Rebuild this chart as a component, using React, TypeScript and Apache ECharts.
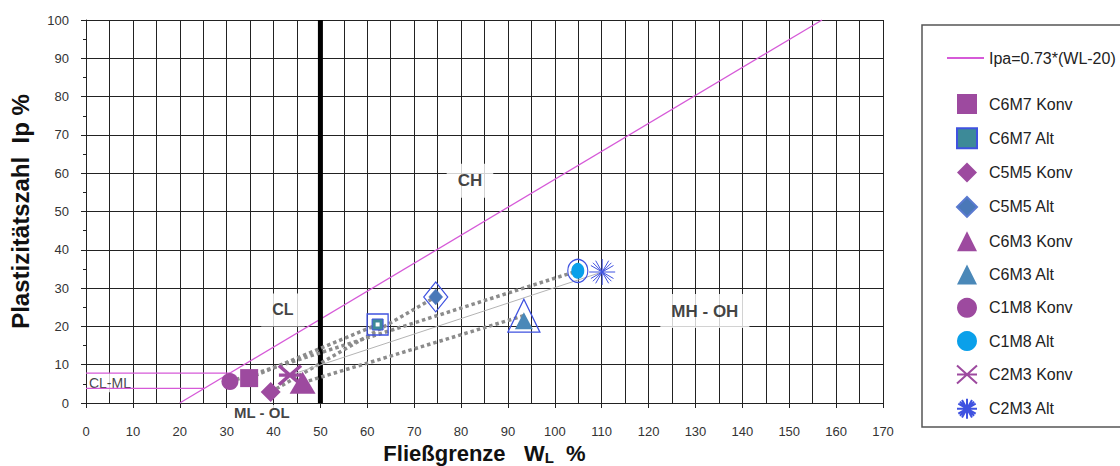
import React, { useEffect, useRef } from 'react';
import * as echarts from 'echarts';

// ---- data ----
const seriesNames = [
  'C6M7 Konv', 'C6M7 Alt',
  'C5M5 Konv', 'C5M5 Alt',
  'C6M3 Konv', 'C6M3 Alt',
  'C1M8 Konv', 'C1M8 Alt',
  'C2M3 Konv', 'C2M3 Alt',
];
const wl = [34.8, 62.2, 39.4, 74.6, 46.2, 93.4, 30.7, 104.9, 43.5, 110.1];
const ip = [6.5, 20.5, 2.9, 27.7, 5.3, 22.8, 5.6, 34.5, 7.3, 34.2];

const aLineName = 'Ipa=0.73*(WL-20)';
const aLineX = [20, 157];
const aLineY = [0, 100];

const clmlUpperX = [0, 30.7];
const clmlUpperY = [7.8, 7.8];
const clmlLowerX = [0, 25.2];
const clmlLowerY = [3.8, 3.8];

const wl50X = [50, 50];
const wl50Y = [0, 100];

const zoneNames = ['CH', 'CL', 'MH - OH', 'ML - OL', 'CL-ML'];
const zoneX = [81.9, 42.0, 132.0, 37.5, 5.1];
const zoneY = [58.0, 24.3, 24.0, -2.6, 5.3];

// ---- styles ----
const KONV = '#9d4a9f';
const BLUE = '#3f52e0';
const crossPath = 'path://M0,0L20,18M20,0L0,18M0,9L20,9';
const starPath =
  'path://M10,0L10,20M0,10L20,10M2.9,2.9L17.1,17.1M17.1,2.9L2.9,17.1M5,1.3L15,18.7M15,1.3L5,18.7M1.3,5L18.7,15M1.3,15L18.7,5';

type MS = { symbol: string; size: any; color: string; border?: string; bw?: number; offset?: number[] };
const mainStyle: MS[] = [
  { symbol: 'rect', size: 18, color: KONV },
  { symbol: 'rect', size: 11, color: '#3d8a98', border: BLUE, bw: 1 },
  { symbol: 'diamond', size: 20, color: KONV },
  { symbol: 'diamond', size: [14, 16], color: '#4a78b8', border: '#5a7ad0', bw: 0.5 },
  { symbol: 'triangle', size: [26, 22], color: KONV },
  { symbol: 'triangle', size: [18, 17], color: '#4a88b8', offset: [0, 5] },
  { symbol: 'circle', size: 17, color: KONV },
  { symbol: 'circle', size: [13, 16], color: '#0aa0ea' },
  { symbol: crossPath, size: [22, 19], color: 'rgba(0,0,0,0)', border: KONV, bw: 3.5 },
  { symbol: starPath, size: 26, color: 'rgba(0,0,0,0)', border: BLUE, bw: 1 },
];
// extra decoration layers for the "Alt" markers (index -> list)
const ringStyle: Record<number, MS[]> = {
  1: [
    { symbol: 'rect', size: 21, color: 'rgba(0,0,0,0)', border: BLUE, bw: 1.3 },
    { symbol: 'rect', size: 4, color: '#ffffff' },
  ],
  3: [{ symbol: 'diamond', size: [24, 30], color: 'rgba(0,0,0,0)', border: BLUE, bw: 1.2 }],
  5: [{ symbol: 'triangle', size: [32, 33], color: 'rgba(0,0,0,0)', border: BLUE, bw: 1.3 }],
  7: [{ symbol: 'circle', size: [20, 23], color: 'rgba(0,0,0,0)', border: BLUE, bw: 1.2 }],
};

export default function App() {
  const ref = useRef<HTMLDivElement>(null);

  useEffect(() => {
    if (!ref.current) return;
    const chart = echarts.init(ref.current, undefined, { renderer: 'svg' });

    const series: any[] = [];

    // zone labels (white boxed text)
    series.push({
      type: 'scatter',
      name: '_zones',
      z: 1,
      clip: false,
      symbolSize: 1,
      itemStyle: { color: 'rgba(0,0,0,0)' },
      silent: true,
      data: zoneNames.map((n, i) => ({
        name: n,
        value: [zoneX[i], zoneY[i]],
        label:
          n === 'CL-ML'
            ? { fontSize: 14, fontWeight: 'normal', padding: [3, 1, 2, 1] }
            : n === 'ML - OL'
            ? { fontSize: 15, fontWeight: 'bold', padding: [1, 3, 0, 3] }
            : { fontSize: n === 'CL' ? 16 : 17, fontWeight: 'bold', padding: [9, 11, 8, 11] },
      })),
      label: {
        show: true,
        position: 'inside',
        formatter: (p: any) => p.name,
        color: '#111',
        fontFamily: 'Arial',
        backgroundColor: '#ffffff',
      },
    });

    const mkLine = (name: string, xs: number[], ys: number[], ls: any, z = 3) => ({
      type: 'line',
      name,
      z,
      symbol: 'none',
      showSymbol: false,
      silent: true,
      lineStyle: ls,
      itemStyle: { color: ls.color },
      data: xs.map((x, i) => [x, ys[i]]),
    });

    series.push(mkLine(aLineName, aLineX, aLineY, { color: '#d65ad8', width: 1.3 }));
    series.push(mkLine('_clmlU', clmlUpperX, clmlUpperY, { color: '#d65ad8', width: 1.3 }));
    series.push(mkLine('_clmlL', clmlLowerX, clmlLowerY, { color: '#d65ad8', width: 1.3 }));
    series.push(mkLine('_wl50', wl50X, wl50Y, { color: '#000', width: 5 }));

    // connection lines Konv -> Alt
    for (let k = 0; k < 5; k++) {
      const a = 2 * k, b = 2 * k + 1;
      const thin = k === 4;
      series.push(
        mkLine(
          '_conn' + k,
          [wl[a], wl[b]],
          [ip[a], ip[b]],
          thin
            ? { color: '#b4b4b4', width: 1 }
            : { color: '#8c8c8c', width: 3.5, type: [3.5, 3], cap: 'butt' },
          3
        )
      );
    }

    // markers: draw order
    const order = [6, 0, 2, 8, 4, 1, 3, 5, 7, 9];
    order.forEach((i) => {
      const rings = ringStyle[i] || [];
      rings.forEach((r, j) => {
        if (r.size === 4) return;
        series.push({
          type: 'scatter',
          name: '_ring' + i + '_' + j,
          z: 4,
          silent: true,
          symbol: r.symbol,
          symbolSize: r.size,
          itemStyle: { color: r.color, borderColor: r.border, borderWidth: r.bw || 0, opacity: 1 },
          data: [[wl[i], ip[i]]],
        });
      });
      const m = mainStyle[i];
      series.push({
        type: 'scatter',
        name: seriesNames[i],
        z: 5,
        symbol: m.symbol,
        symbolSize: m.size,
        symbolOffset: m.offset || [0, 0],
        itemStyle: { color: m.color, borderColor: m.border || m.color, borderWidth: m.bw || 0, opacity: 1 },
        data: [[wl[i], ip[i]]],
      });
      rings.forEach((r, j) => {
        if (r.size !== 4) return;
        series.push({
          type: 'scatter',
          name: '_dot' + i + '_' + j,
          z: 6,
          silent: true,
          symbol: r.symbol,
          symbolSize: r.size,
          itemStyle: { color: r.color, opacity: 1 },
          data: [[wl[i], ip[i]]],
        });
      });
    });

    const axisFont = { fontFamily: 'Arial', fontSize: 13, color: '#333' };

    chart.setOption({
      animation: false,
      backgroundColor: '#ffffff',
      grid: { left: 86, right: 237, top: 20, bottom: 63, containLabel: false, outerBoundsMode: 'none' },
      xAxis: {
        type: 'value',
        min: 0,
        max: 170,
        interval: 10,
        name: '{a|Fließgrenze   W}{b|L}{a|  %}',
        nameLocation: 'middle',
        nameGap: 39,
        nameTextStyle: {
          rich: {
            a: { fontFamily: 'Arial', fontSize: 22, fontWeight: 'bold', color: '#111' },
            b: { fontFamily: 'Arial', fontSize: 15, fontWeight: 'bold', color: '#111', padding: [7, 0, 0, 0] },
          },
        },
        axisLine: { show: true, lineStyle: { color: '#222', width: 1 } },
        axisTick: { show: true, length: 5, lineStyle: { color: '#222' } },
        axisLabel: { ...axisFont, margin: 22 },
        splitLine: { show: true, lineStyle: { color: '#222', width: 1 } },
        minorTick: { show: false, splitNumber: 2 },
        minorSplitLine: { show: true, lineStyle: { color: '#222', width: 1 } },
      },
      yAxis: {
        type: 'value',
        min: 0,
        max: 100,
        interval: 10,
        name: 'Plastizitätszahl  Ip %',
        nameLocation: 'middle',
        nameGap: 54,
        nameTextStyle: { fontFamily: 'Arial', fontSize: 24, fontWeight: 'bold', color: '#111' },
        axisLine: { show: true, lineStyle: { color: '#222', width: 1 } },
        axisTick: { show: true, length: 5, lineStyle: { color: '#222' } },
        minorTick: { show: true, splitNumber: 2, length: 3, lineStyle: { color: '#222' } },
        axisLabel: { ...axisFont, margin: 17 },
        splitLine: { show: true, lineStyle: { color: '#222', width: 1 } },
      },
      legend: [
        {
          orient: 'vertical',
          left: 941,
          top: 45,
          itemWidth: 37,
          itemHeight: 14,
          itemStyle: { opacity: 0 },
          textStyle: { fontFamily: 'Arial', fontSize: 16, color: '#222' },
          data: [aLineName],
          selectedMode: false,
        },
        {
          orient: 'vertical',
          left: 951,
          top: 89,
          itemWidth: 20,
          itemHeight: 20,
          itemGap: 13.3,
          textStyle: { fontFamily: 'Arial', fontSize: 16, color: '#222', padding: [0, 0, 0, 7] },
          data: seriesNames,
          selectedMode: false,
        },
      ],
      graphic: [
        {
          type: 'rect',
          z: 0,
          shape: { x: 922, y: 25, width: 220, height: 402 },
          style: { fill: '#ffffff', stroke: '#555', lineWidth: 1.5 },
          silent: true,
        },
      ],
      series,
    });

    return () => chart.dispose();
  }, []);

  return (
    <div
      ref={ref}
      style={{ position: 'fixed', left: 0, top: 0, width: 1120, height: 466, background: '#fff' }}
    />
  );
}
